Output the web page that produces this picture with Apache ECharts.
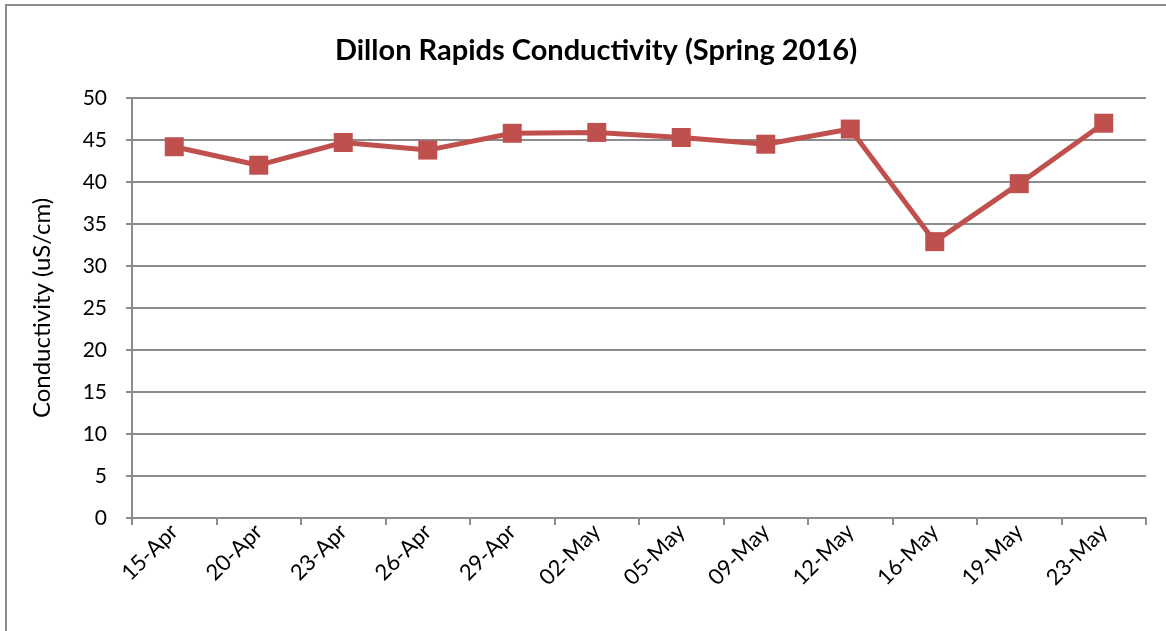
<!DOCTYPE html>
<html>
<head>
<meta charset="utf-8">
<script src="https://cdn.jsdelivr.net/npm/echarts@6/dist/echarts.min.js"></script>
<style>
  html, body { margin: 0; padding: 0; background: #fff; }
  #frame { position: absolute; left: 5px; top: 4px; width: 1170px; height: 640px; border: 2px solid #8c8c8c; box-sizing: border-box; }
  #chart { position: absolute; left: 0; top: 0; width: 1166px; height: 631px; }
</style>
</head>
<body>
<div id="frame"></div>
<div id="chart"></div>
<script>
// Sampling dates and measured conductivity (uS/cm)
const dates = ['15-Apr', '20-Apr', '23-Apr', '26-Apr', '29-Apr', '02-May', '05-May', '09-May', '12-May', '16-May', '19-May', '23-May'];
const conductivity = [44.2, 42.0, 44.7, 43.8, 45.8, 45.9, 45.3, 44.5, 46.3, 32.9, 39.8, 47.0];

const font = 'Lato, "Open Sans", sans-serif';
const chart = echarts.init(document.getElementById('chart'), null, { renderer: 'canvas' });
chart.setOption({
  animation: false,
  backgroundColor: 'transparent',
  title: {
    text: 'Dillon Rapids Conductivity (Spring 2016)',
    left: 591, top: 31, textAlign: 'center',
    textStyle: { fontFamily: font, fontSize: 29, fontWeight: 'bold', color: '#000' }
  },
  grid: { left: 132, right: 20, top: 98, bottom: 113 },
  xAxis: {
    type: 'category',
    data: dates,
    boundaryGap: true,
    axisLine: { lineStyle: { color: '#8c8c8c', width: 2 } },
    axisTick: { show: true, length: 7, interval: 0, lineStyle: { color: '#8c8c8c', width: 2 } },
    axisLabel: { rotate: 45, interval: 0, margin: 10, fontFamily: font, fontSize: 22, color: '#000' }
  },
  yAxis: {
    type: 'value',
    min: 0, max: 50, interval: 5,
    name: 'Conductivity (uS/cm)',
    nameLocation: 'middle',
    nameGap: 78,
    nameTextStyle: { fontFamily: font, fontSize: 24, color: '#000' },
    axisLine: { show: true, lineStyle: { color: '#8c8c8c', width: 2 } },
    axisTick: { show: true, length: 6, lineStyle: { color: '#8c8c8c', width: 2 } },
    axisLabel: { margin: 25, fontFamily: font, fontSize: 21, color: '#000' },
    splitLine: { lineStyle: { color: '#8c8c8c', width: 2 } }
  },
  series: [{
    type: 'line',
    data: conductivity,
    symbol: 'rect',
    symbolSize: 19,
    lineStyle: { color: '#C0504D', width: 5 },
    itemStyle: { color: '#C0504D' }
  }]
});
</script>
</body>
</html>
